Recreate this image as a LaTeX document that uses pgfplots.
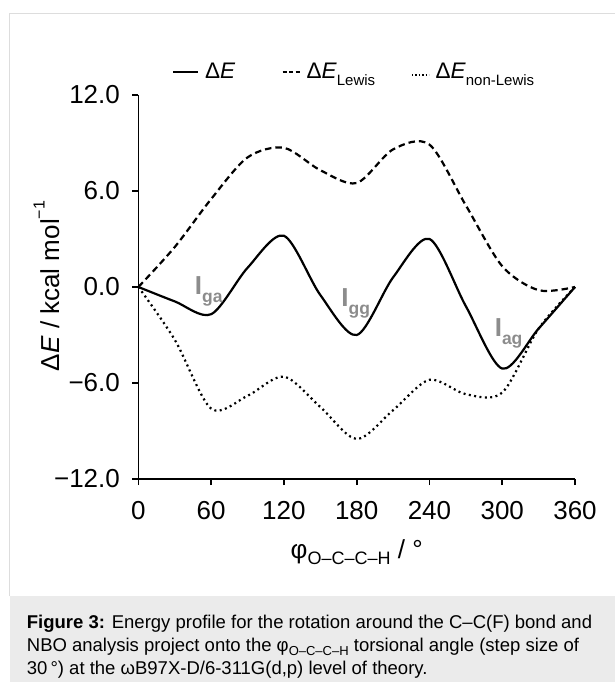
\documentclass[border=0pt]{standalone}
\usepackage{fontspec}
\setmainfont{Liberation Sans}
\usepackage{pgfplots}
\pgfplotsset{compat=1.18}

\definecolor{framegray}{HTML}{DDDDDD}
\definecolor{capgray}{HTML}{EBEBEB}
\definecolor{labgray}{HTML}{8C8C8C}

\newcommand{\fs}[1]{\fontsize{#1}{#1}\selectfont}
% \sub{size}{drop}{text}
\newcommand{\sub}[3]{\raisebox{-#2}{\fs{#1}#3}}

\pgfplotsset{
  legsolid/.style={legend image code/.code={\draw[##1] (0pt,0pt) -- (25pt,0pt);}},
  legdash/.style={legend image code/.code={\draw[##1, dash pattern=on 4pt off 2.5pt] (0pt,0pt) -- (17pt,0pt);}},
  legdot/.style={legend image code/.code={\draw[##1, line width=1.4pt, dash pattern=on 1.4pt off 2pt] (0pt,-3pt) -- (17pt,-3pt);}},
}

\begin{document}
\begin{tikzpicture}
\begin{axis}[
  scale only axis, width=436.6pt, height=384pt,
  xmin=0, xmax=360, ymin=-12, ymax=12,
  axis x line*=bottom, axis y line*=left,
  xtick={0,60,...,360}, ytick={-12,-6,0,6,12},
  xticklabels={0,60,120,180,240,300,360},
  yticklabels={−12.0,−6.0,0.0,6.0,12.0},
  tick align=outside, major tick length=6pt,
  axis line style={line width=1.6pt},
  tick style={line width=1.6pt, black},
  ticklabel style={font=\fs{26}},
  xticklabel style={yshift=-13pt},
  yticklabel style={xshift=-9pt},
  clip=false,
  legend columns=3,
  legend style={at={(axis description cs:0.0765,1.06)}, anchor=west,
    draw=none, fill=none, inner sep=0pt, font=\fs{22.5},
    /tikz/every odd column/.style={column sep=4pt},
    /tikz/column 2/.style={column sep=44pt},
    /tikz/column 4/.style={column sep=34pt}},
  legend cell align=left,
]
\addplot[black, line width=2.2pt, smooth, legsolid] coordinates {
(0,0) (30,-0.9) (60,-1.7) (90,1.2) (120,3.2) (150,-0.5) (180,-3.0)
(210,0.6) (240,3.0) (270,-1.2) (300,-5.1) (330,-2.6) (360,0)};
\addlegendentry{Δ\textit{E}}

\addplot[black, line width=2.2pt, smooth, dash pattern=on 6.5pt off 4pt, legdash] coordinates {
(0,0) (30,2.5) (60,5.5) (90,8.1) (120,8.7) (150,7.3) (180,6.5)
(210,8.6) (240,8.9) (270,5.1) (300,1.3) (330,-0.2) (360,0)};
\addlegendentry{Δ\textit{E}\sub{15}{7pt}{Lewis}}

\addplot[black, line width=2.2pt, smooth, dash pattern=on 2pt off 3.4pt, legdot] coordinates {
(0,0) (30,-3.3) (60,-7.6) (90,-6.8) (120,-5.6) (150,-7.5) (180,-9.5)
(210,-7.7) (240,-5.8) (270,-6.7) (300,-6.6) (330,-2.6) (360,0)};
\addlegendentry{Δ\textit{E}\sub{15}{7pt}{non-Lewis}}

\node[anchor=base west, inner sep=0pt, text=labgray, font=\bfseries\fs{26}]
  at (axis cs:46.5,-0.46) {I\sub{17.5}{8pt}{ga}};
\node[anchor=base west, inner sep=0pt, text=labgray, font=\bfseries\fs{26}]
  at (axis cs:167.3,-1.19) {I\sub{17.5}{8pt}{gg}};
\node[anchor=base west, inner sep=0pt, text=labgray, font=\bfseries\fs{26}]
  at (axis cs:293.7,-3.1) {I\sub{17.5}{8pt}{ag}};
\coordinate (O) at (axis cs:0,-12);
\end{axis}

% everything else in page pixels (y up), origin at the page's lower left
\begin{scope}[shift={(O)}, x=1pt, y=1pt, xshift=-138.4pt, yshift=-203pt]
\pgfresetboundingbox
\useasboundingbox (0,0) rectangle (615,682);
% frame and caption box
\fill[capgray] (9.8,0) rectangle (615,86);
\draw[framegray, line width=1pt] (9.8,86) -- (9.8,668) -- (615,668);

% axis titles
\node[rotate=90, inner sep=0pt, font=\fs{26}] at (46.5,396)
  {Δ\textit{E} / kcal mol\raisebox{0.55em}{\fs{16}−1}};
\node[inner sep=0pt, font=\fs{26}] at (356.7,130.3)
  {φ\sub{18}{6pt}{O–C–C–H} / °};

% caption
\begin{scope}[every node/.style={anchor=base west, inner sep=0pt, font=\fs{18.5}}]
\node at (26.7,54) {\textbf{Figure 3:} Energy profile for the rotation around the C–C(F) bond and};
\node at (26.7,30.3) {NBO analysis project onto the φ\sub{13}{4pt}{O–C–C–H} torsional angle (step size of};
\node at (26.7,8) {30\,°) at the ωB97X-D/6-311G(d,p) level of theory.};
\end{scope}
\end{scope}
\end{tikzpicture}
\end{document}
